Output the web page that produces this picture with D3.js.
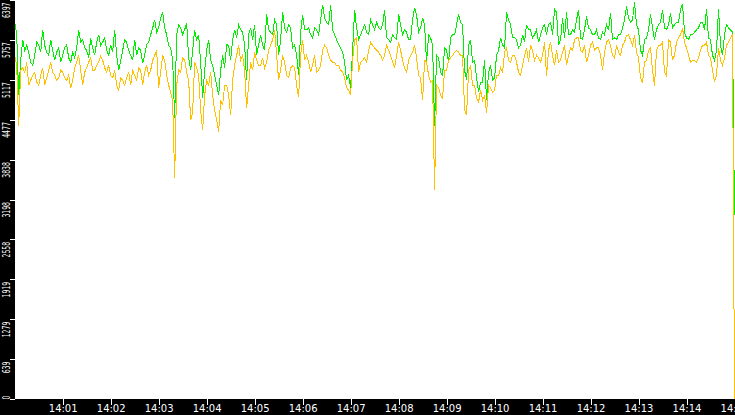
<!DOCTYPE html>
<html>
<head>
<meta charset="utf-8">
<script src="https://cdn.jsdelivr.net/npm/d3@7"></script>
<style>
  html, body { margin: 0; padding: 0; background: #fff; overflow: hidden; }
  svg { display: block; }
  .axis text { fill: #fff; font-family: "DejaVu Sans", sans-serif; }
  .axis line { stroke: #fff; }
</style>
</head>
<body>
<div id="chart"></div>
<script>
// samples every 2.5 s from 14:00:00 to 14:15:00
const greenValues = [
  6040, 5840, 4870, 5430, 5760, 5590, 5680, 5560, 5400, 5350, 5510, 5720, 5680, 5560, 5920, 5670, 5560, 5510, 5760, 5590,
  5430, 5560, 5630, 5400, 5510, 5630, 5680, 5470, 5400, 5560, 5470, 5630, 5920, 5720, 5760, 5630, 5590, 5470, 5790, 5630,
  5510, 5720, 5840, 5670, 5720, 5790, 5590, 5510, 5680, 5560, 5920, 5510, 5270, 5430, 5590, 5760, 5720, 5590, 5510, 5430,
  5760, 5510, 5630, 5590, 5390, 5510, 5680, 5720, 5840, 5950, 6080, 5880, 5950, 6110, 6200, 5950, 5840, 5670, 5630, 5430,
  4500, 5840, 6000, 5950, 5840, 5920, 6030, 5470, 5270, 5590, 5920, 5760, 5840, 5400, 4830, 5270, 5590, 5760, 5430, 5350,
  5190, 5030, 4870, 5270, 5510, 5310, 5680, 5670, 5430, 5760, 5920, 5790, 6000, 5920, 5880, 5670, 5110, 5840, 5950, 5760,
  6000, 5510, 5680, 5840, 5680, 5590, 6170, 5920, 5880, 5840, 6080, 6000, 5510, 5760, 6200, 5950, 5880, 6000, 5950, 5630,
  5680, 5510, 5190, 5880, 6160, 5920, 5920, 5950, 5840, 5790, 5950, 5920, 5840, 6080, 6320, 6110, 6040, 6000, 6320, 5920,
  5840, 5760, 5680, 5630, 5560, 5400, 5110, 5190, 4990, 5590, 6240, 5950, 5760, 5840, 5920, 6000, 5880, 5840, 6080, 6000,
  5920, 6040, 5950, 5920, 6000, 6240, 5790, 5760, 5720, 5840, 5790, 5760, 6170, 6000, 5840, 5920, 5880, 5760, 5760, 6080,
  6270, 6160, 5880, 5950, 6110, 6000, 5400, 5840, 5790, 5670, 4380, 5510, 5470, 5240, 5190, 5630, 5590, 5400, 5790, 5840,
  5840, 6000, 6170, 6040, 6000, 5270, 5110, 5670, 5760, 5400, 5430, 5150, 4920, 5080, 5080, 5430, 4790, 5240, 5350, 5110,
  5150, 5510, 5590, 5790, 5680, 5630, 6200, 6080, 6000, 5790, 5790, 5760, 5630, 5670, 5840, 5720, 6000, 5920, 5920, 5790,
  5840, 5920, 5720, 5840, 5950, 6000, 5840, 6000, 6040, 5840, 6250, 6200, 5680, 5760, 6110, 5790, 6200, 5840, 5840, 5920,
  5880, 6080, 6240, 5790, 5760, 5920, 6140, 5950, 5920, 5840, 5840, 5920, 5790, 5760, 5880, 5840, 6000, 5920, 6190, 5760,
  5790, 5760, 5840, 5840, 5950, 6080, 6300, 6110, 6040, 6080, 6360, 6000, 5920, 5590, 5510, 5760, 5790, 5920, 6170, 5950,
  5760, 5920, 6000, 6040, 6240, 5950, 5920, 6000, 6190, 5950, 6000, 6040, 6040, 6240, 6330, 5880, 5790, 5760, 5840, 5840,
  5880, 5920, 5950, 6040, 6040, 5920, 6250, 5790, 5760, 5510, 5430, 5590, 6250, 5670, 5510, 5840, 6000, 5950, 5920, 5880,
  2950
]

const orangeValues = [
  5510, 5350, 4380, 5270, 5310, 5240, 5400, 5030, 5110, 5190, 5240, 5080, 5030, 5190, 5310, 5030, 5150, 5270, 5400, 5240,
  5190, 5110, 5150, 5270, 5240, 5150, 5110, 5190, 4990, 5110, 5310, 5400, 5510, 5270, 5030, 5240, 5310, 5400, 5470, 5270,
  5270, 5350, 5400, 5500, 5430, 5310, 5240, 5350, 5190, 5150, 5270, 5030, 4950, 5150, 5110, 5030, 5150, 5240, 5030, 5270,
  5190, 5110, 5310, 5270, 5030, 5240, 5350, 5190, 5270, 5430, 5510, 5590, 4990, 5240, 5510, 5430, 5190, 5030, 4920, 4790,
  3540, 5030, 5270, 5240, 5470, 5430, 5240, 5110, 4470, 4600, 5400, 5310, 5190, 4630, 4310, 4870, 5110, 5030, 5240, 4870,
  4630, 4470, 4280, 4790, 4710, 5030, 5030, 4870, 4550, 5110, 5350, 5510, 5670, 5430, 5510, 5270, 4660, 5030, 5400, 5270,
  5560, 5430, 5350, 5350, 5470, 5310, 5400, 5590, 5670, 5760, 5920, 5510, 5110, 5270, 5510, 5400, 5190, 5150, 5310, 5340,
  5310, 5030, 4840, 5510, 5760, 5430, 5510, 5400, 5240, 5350, 5510, 5240, 5270, 5350, 5590, 5670, 5630, 5510, 5430, 5400,
  5400, 5340, 5350, 5270, 5240, 5150, 4990, 4950, 4870, 5430, 5760, 5790, 5240, 5400, 5430, 5470, 5400, 5590, 5720, 5670,
  5630, 5590, 5560, 5510, 5430, 5510, 5670, 5590, 5510, 5400, 5310, 5510, 5720, 5590, 5430, 5310, 5240, 5430, 5510, 5560,
  5670, 5470, 5190, 5150, 4790, 5430, 5400, 5190, 5080, 5110, 3350, 5030, 4990, 4870, 4820, 5270, 5270, 5430, 5470, 5510,
  5560, 5590, 5560, 5510, 5510, 4630, 4550, 5270, 5350, 5030, 5030, 4820, 4760, 4950, 4790, 4870, 4580, 5030, 4990, 4920,
  4950, 5190, 5190, 5310, 5240, 5560, 5630, 5430, 5400, 5510, 5510, 5400, 5240, 5190, 5350, 5510, 5630, 5400, 5670, 5590,
  5430, 5510, 5470, 5400, 5510, 5720, 5180, 5590, 5720, 5510, 5350, 5590, 5400, 5430, 5560, 5670, 5350, 5510, 5630, 5590,
  5760, 5790, 5790, 5590, 5560, 5670, 5400, 5510, 5670, 5720, 5590, 5630, 5630, 5510, 5270, 5560, 5720, 5760, 5670, 5510,
  5470, 5670, 5560, 5510, 5670, 5720, 5830, 5840, 5760, 5670, 5830, 5560, 5470, 5150, 5070, 5400, 5430, 5590, 5630, 5270,
  5020, 5590, 5670, 5670, 5720, 5240, 5180, 5760, 5720, 5430, 5510, 5720, 5790, 5840, 5950, 5720, 5630, 5510, 5400, 5430,
  5430, 5400, 5470, 5590, 5670, 5670, 5720, 5510, 5470, 5270, 5080, 5190, 5630, 5430, 5350, 5470, 5670, 5720, 5790, 5840,
  0
]

const yMax = 6397
const yTickLabels = ['0', '639', '1279', '1919', '2558', '3198', '3838', '4477', '5117', '5757', '6397']
const xTickLabels = ['14:01', '14:02', '14:03', '14:04', '14:05', '14:06', '14:07', '14:08',
  '14:09', '14:10', '14:11', '14:12', '14:13', '14:14', '14:15']

function draw() {
  // Dimensions
  let dimensions = {
    width: 735,
    height: 415,
    left: 14.7,
    right: 734.5,
    bottom: 399
  }

  const t0 = new Date(2000, 0, 1, 14, 0, 0)
  const timeAt = (i) => new Date(t0.getTime() + i * 2500)

  const svg = d3.select('#chart')
    .append('svg')
    .attr('width', dimensions.width)
    .attr('height', dimensions.height)

  // scales
  const xScale = d3.scaleTime()
    .domain([t0, new Date(2000, 0, 1, 14, 15, 0)])
    .range([dimensions.left, dimensions.right])

  const yScale = d3.scaleLinear()
    .domain([0, yMax])
    .range([dimensions.bottom, 0])

  const line = d3.line()
    .x((d, i) => xScale(timeAt(i)))
    .y(d => yScale(d))

  svg.append('path')
    .datum(greenValues)
    .attr('d', line)
    .attr('fill', 'none')
    .attr('stroke', '#00ee00')
    .attr('stroke-width', 1)
    .attr('shape-rendering', 'crispEdges')

  svg.append('path')
    .datum(orangeValues)
    .attr('d', line)
    .attr('fill', 'none')
    .attr('stroke', '#ffc000')
    .attr('stroke-width', 1)
    .attr('shape-rendering', 'crispEdges')

  // black axis strips
  svg.append('rect')
    .attr('x', 0).attr('y', dimensions.bottom)
    .attr('width', dimensions.width).attr('height', dimensions.height - dimensions.bottom)
    .attr('fill', '#000')

  svg.append('rect')
    .attr('x', 0).attr('y', 0)
    .attr('width', 15).attr('height', dimensions.height)
    .attr('fill', '#000')

  // y axis
  const yTicks = yTickLabels.map((d, i) => i * yMax / 10)
  const yAxis = d3.axisLeft(yScale)
    .tickValues(yTicks)
    .tickSize(5)
    .tickPadding(0)
    .tickFormat((d, i) => yTickLabels[i])

  const yAxisGroup = svg.append('g')
    .attr('transform', 'translate(15, 0)')
    .classed('axis', true)
    .call(yAxis)

  yAxisGroup.select('.domain').remove()
  yAxisGroup.selectAll('.tick line').attr('shape-rendering', 'crispEdges')
  yAxisGroup.selectAll('.tick text')
    .attr('font-size', 11)
    .attr('textLength', (d, i) => yTickLabels[i].length * 3.9)
    .attr('lengthAdjust', 'spacingAndGlyphs')
    .attr('text-anchor', (d, i) => i === 0 ? 'start' : 'end')
    .attr('dy', null)
    .attr('x', 0)
    .attr('y', 0)
    .attr('transform', (d, i) => `translate(-5, ${i === 0 ? 0 : 2}) rotate(-90)`)

  // x axis
  const xTicks = xTickLabels.map(s => {
    const [h, m] = s.split(':').map(Number)
    return new Date(2000, 0, 1, h, m, 0)
  })
  const xAxis = d3.axisBottom(xScale)
    .tickValues(xTicks)
    .tickSize(6)
    .tickPadding(2)
    .tickFormat((d, i) => xTickLabels[i])

  const xAxisGroup = svg.append('g')
    .attr('transform', `translate(0, ${dimensions.bottom})`)
    .classed('axis', true)
    .call(xAxis)

  xAxisGroup.select('.domain').remove()
  xAxisGroup.selectAll('.tick line').attr('shape-rendering', 'crispEdges')
  xAxisGroup.selectAll('.tick text')
    .attr('font-size', 10)
    .attr('dy', '0.45em')
}

draw()
</script>
</body>
</html>
